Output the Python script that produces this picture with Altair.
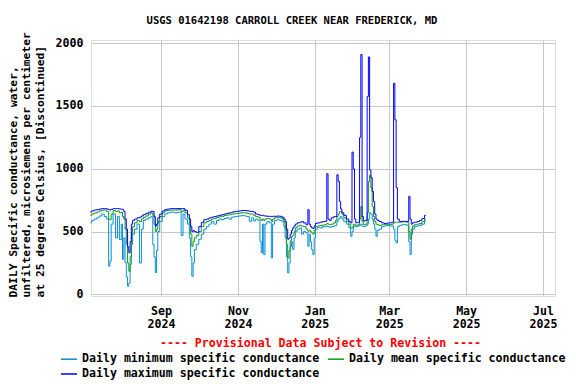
import altair as alt
import pandas as pd

dates = [
    "2024-07-07", "2024-07-09", "2024-07-11", "2024-07-13", "2024-07-15", "2024-07-17", "2024-07-19", "2024-07-21",
    "2024-07-22", "2024-07-23", "2024-07-24", "2024-07-26", "2024-07-28", "2024-07-29", "2024-07-31", "2024-08-01",
    "2024-08-02", "2024-08-03", "2024-08-04", "2024-08-05", "2024-08-06", "2024-08-07", "2024-08-08", "2024-08-09",
    "2024-08-10", "2024-08-12", "2024-08-14", "2024-08-16", "2024-08-17", "2024-08-19", "2024-08-21", "2024-08-23",
    "2024-08-25", "2024-08-26", "2024-08-27", "2024-08-28", "2024-08-29", "2024-08-30", "2024-09-01", "2024-09-03",
    "2024-09-05", "2024-09-07", "2024-09-10", "2024-09-13", "2024-09-16", "2024-09-18", "2024-09-19", "2024-09-21",
    "2024-09-23", "2024-09-24", "2024-09-25", "2024-09-26", "2024-09-27", "2024-09-28", "2024-09-30", "2024-10-02",
    "2024-10-04", "2024-10-06", "2024-10-08", "2024-10-10", "2024-10-12", "2024-10-14", "2024-10-16", "2024-10-18",
    "2024-10-20", "2024-10-22", "2024-10-24", "2024-10-26", "2024-10-28", "2024-10-30", "2024-11-01", "2024-11-03",
    "2024-11-05", "2024-11-07", "2024-11-09", "2024-11-11", "2024-11-13", "2024-11-14", "2024-11-16", "2024-11-18",
    "2024-11-19", "2024-11-20", "2024-11-21", "2024-11-22", "2024-11-23", "2024-11-25", "2024-11-27", "2024-11-28",
    "2024-11-29", "2024-12-01", "2024-12-03", "2024-12-05", "2024-12-07", "2024-12-08", "2024-12-09", "2024-12-10",
    "2024-12-11", "2024-12-12", "2024-12-13", "2024-12-14", "2024-12-15", "2024-12-16", "2024-12-17", "2024-12-19",
    "2024-12-21", "2024-12-22", "2024-12-24", "2024-12-26", "2024-12-27", "2024-12-28", "2024-12-29", "2024-12-30",
    "2024-12-31", "2025-01-01", "2025-01-02", "2025-01-04", "2025-01-06", "2025-01-08", "2025-01-10", "2025-01-11",
    "2025-01-12", "2025-01-13", "2025-01-15", "2025-01-17", "2025-01-18", "2025-01-19", "2025-01-20", "2025-01-21",
    "2025-01-22", "2025-01-23", "2025-01-25", "2025-01-27", "2025-01-29", "2025-01-30", "2025-01-31", "2025-02-01",
    "2025-02-02", "2025-02-03", "2025-02-05", "2025-02-06", "2025-02-07", "2025-02-08", "2025-02-09", "2025-02-11",
    "2025-02-12", "2025-02-13", "2025-02-14", "2025-02-15", "2025-02-16", "2025-02-17", "2025-02-18", "2025-02-19",
    "2025-02-20", "2025-02-22", "2025-02-24", "2025-02-26", "2025-02-28", "2025-03-02", "2025-03-04", "2025-03-05",
    "2025-03-06", "2025-03-07", "2025-03-08", "2025-03-10", "2025-03-12", "2025-03-14", "2025-03-16", "2025-03-17",
    "2025-03-18", "2025-03-19", "2025-03-20", "2025-03-22", "2025-03-24", "2025-03-26", "2025-03-28", "2025-03-30",
]

min_vals = [
    570, 590, 600, 610, 625, 640, 620, 600,
    225, 265, 560, 640, 450, 620, 437, 560,
    280, 450, 253, 140, 66, 90, 240, 400,
    480, 520, 560, 250, 520, 590, 600, 610,
    620, 397, 300, 175, 350, 500, 580, 620,
    640, 650, 655, 650, 655, 470, 640, 600,
    560, 450, 300, 145, 250, 357, 400, 440,
    480, 520, 540, 560, 580, 560, 590, 600,
    595, 605, 610, 600, 615, 620, 622, 625,
    628, 625, 620, 582, 610, 585, 600, 590,
    423, 331, 560, 318, 560, 580, 570, 291,
    560, 590, 595, 590, 580, 540, 450, 300,
    172, 250, 380, 420, 357, 450, 500, 520,
    530, 480, 500, 490, 384, 480, 420, 357,
    318, 450, 520, 535, 530, 540, 540, 545,
    540, 535, 540, 545, 550, 580, 600, 610,
    622, 600, 580, 560, 530, 463, 500, 540,
    545, 540, 545, 550, 560, 545, 540, 545,
    560, 600, 650, 640, 600, 560, 520, 463,
    510, 520, 540, 545, 548, 545, 545, 520,
    430, 410, 540, 550, 555, 556, 550, 420,
    318, 480, 520, 540, 545, 550, 560, 585,
]

mean_vals = [
    630, 640, 648, 655, 665, 670, 672, 660,
    600, 595, 640, 668, 660, 665, 650, 655,
    620, 600, 520, 400, 250, 185, 300, 480,
    540, 570, 590, 580, 600, 615, 625, 640,
    650, 630, 560, 500, 520, 580, 620, 650,
    665, 670, 672, 672, 675, 660, 670, 650,
    610, 560, 480, 384, 420, 450, 470, 500,
    540, 570, 580, 590, 600, 605, 612, 618,
    622, 628, 632, 635, 640, 642, 645, 648,
    650, 650, 645, 640, 640, 630, 620, 615,
    600, 590, 600, 590, 600, 605, 600, 580,
    600, 610, 612, 610, 600, 575, 520, 400,
    291, 350, 430, 460, 470, 500, 530, 545,
    550, 545, 540, 520, 503, 510, 500, 490,
    480, 510, 540, 545, 548, 552, 556, 565,
    560, 555, 560, 570, 590, 620, 640, 660,
    661, 640, 610, 580, 560, 530, 530, 560,
    555, 550, 555, 600, 700, 580, 556, 560,
    650, 900, 950, 850, 700, 620, 580, 560,
    555, 550, 555, 556, 558, 556, 560, 570,
    575, 575, 575, 575, 578, 578, 575, 500,
    440, 520, 545, 555, 560, 565, 580, 600,
]

max_vals = [
    655, 665, 672, 675, 680, 683, 683, 680,
    675, 672, 678, 683, 683, 683, 680, 680,
    675, 660, 600, 520, 380, 333, 420, 560,
    590, 600, 610, 615, 625, 635, 645, 655,
    662, 660, 620, 545, 560, 610, 640, 665,
    675, 680, 683, 683, 683, 683, 683, 670,
    635, 600, 540, 500, 510, 500, 495, 540,
    575, 595, 600, 609, 615, 620, 625, 630,
    635, 640, 645, 650, 655, 660, 662, 665,
    668, 668, 665, 662, 660, 655, 640, 635,
    630, 628, 630, 625, 625, 622, 622, 620,
    622, 622, 624, 622, 615, 600, 580, 520,
    440, 450, 480, 510, 530, 545, 560, 570,
    575, 580, 570, 555, 675, 560, 540, 530,
    525, 545, 565, 570, 575, 580, 582, 961,
    600, 590, 610, 620, 620, 953, 900, 741,
    680, 650, 630, 600, 580, 570, 1133, 1000,
    600, 570, 575, 1250, 1910, 620, 585, 590,
    1575, 1890, 990, 930, 820, 740, 640, 600,
    590, 580, 570, 565, 568, 570, 575, 1681,
    1390, 850, 600, 582, 582, 582, 582, 781,
    600, 560, 570, 575, 580, 590, 605, 630,
]

series_names = [
    "Daily minimum specific conductance",
    "Daily mean specific conductance",
    "Daily maximum specific conductance",
]
series_colors = ["#0a8fd8", "#119c11", "#0000ff"]

rows = []
for name, vals in zip(series_names, [min_vals, mean_vals, max_vals]):
    for d, v in zip(dates, vals):
        rows.append({"date": d, "value": v, "series": name})
df = pd.DataFrame(rows)

FONT = "DejaVu Sans Mono"

x_ticks = [
    alt.DateTime(year=2024, month=9, date=1, utc=True),
    alt.DateTime(year=2024, month=11, date=1, utc=True),
    alt.DateTime(year=2025, month=1, date=1, utc=True),
    alt.DateTime(year=2025, month=3, date=1, utc=True),
    alt.DateTime(year=2025, month=5, date=1, utc=True),
    alt.DateTime(year=2025, month=7, date=1, utc=True),
]

chart = alt.Chart(df).mark_line(strokeWidth=1, interpolate="step").encode(
    x=alt.X(
        "date:T",
        scale=alt.Scale(
            type="utc",
            domain=[
                alt.DateTime(year=2024, month=7, date=7, hours=12, utc=True),
                alt.DateTime(year=2025, month=7, date=10, hours=12, utc=True),
            ],
        ),
        axis=alt.Axis(
            values=x_ticks,
            labelExpr="[utcFormat(datum.value, '%b'), utcFormat(datum.value, '%Y')]",
            labelLineHeight=13.5,
            labelPadding=9,
            labelFont=FONT,
            labelFontSize=11.6,
            labelFontWeight="bold",
            labelColor="#000000",
            ticks=False,
            tickSize=0,
            domain=False,
            grid=True,
            gridColor="#c8c8c8",
            gridWidth=1,
            title="---- Provisional Data Subject to Revision ----",
            titleColor="#ff0000",
            titleFont=FONT,
            titleFontSize=11.6,
            titleFontWeight="bold",
            titleY=47,
            titleX=229,
            titleBaseline="middle",
        ),
    ),
    y=alt.Y(
        "value:Q",
        scale=alt.Scale(domain=[-12, 2025], nice=False, zero=False),
        axis=alt.Axis(
            values=[0, 500, 1000, 1500, 2000],
            format="d",
            labelFont=FONT,
            labelFontSize=11.6,
            labelFontWeight="bold",
            labelColor="#000000",
            labelPadding=8,
            ticks=False,
            tickSize=0,
            domain=False,
            grid=True,
            gridColor="#c8c8c8",
            gridWidth=1,
            title=[
                "DAILY Specific conductance, water,",
                "unfiltered, microsiemens per centimeter",
                "at 25 degrees Celsius, [Discontinued]",
            ],
            titleFont=FONT,
            titleFontSize=11.3,
            titleFontWeight="bold",
            titleLineHeight=13.3,
            titleAngle=270,
            titleAlign="left",
            titleBaseline="middle",
            titleX=-77.5,
            titleY=257,
        ),
    ),
    color=alt.Color(
        "series:N",
        scale=alt.Scale(domain=series_names, range=series_colors),
        legend=alt.Legend(
            title=None,
            orient="none",
            direction="horizontal",
            legendX=-31,
            legendY=310,
            columns=2,
            columnPadding=5,
            rowPadding=0,
            symbolType="stroke",
            symbolSize=256,
            symbolStrokeWidth=1.5,
            labelFont=FONT,
            labelFontSize=11.6,
            labelFontWeight="bold",
            labelColor="#000000",
            labelOffset=4,
            labelLimit=0,
            padding=0,
        ),
    ),
).properties(
    width=464,
    height=256,
    title=alt.TitleParams(
        text="USGS 01642198 CARROLL CREEK NEAR FREDERICK, MD",
        font=FONT,
        fontSize=10.5,
        fontWeight="bold",
        color="#000000",
        anchor="middle",
        dx=-31,
        dy=19,
        offset=14,
        baseline="bottom",
    ),
    autosize=alt.AutoSizeParams(type="none"),
    padding={"left": 83, "top": 32, "right": 13, "bottom": 88},
).configure_view(
    stroke="#000000",
    strokeWidth=1,
).configure(background="#ffffff")

chart.save("out.html", embed_options={"renderer": "svg", "actions": False})
